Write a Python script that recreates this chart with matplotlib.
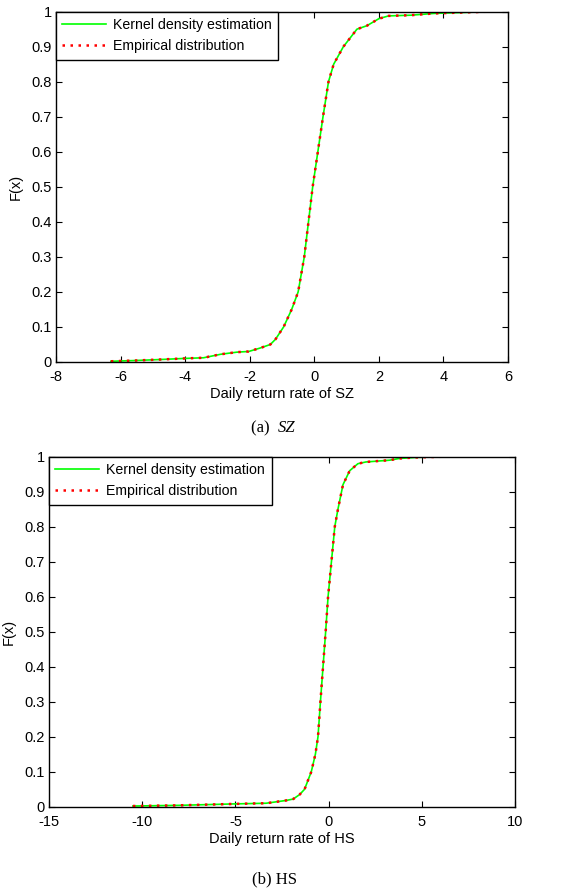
import matplotlib
matplotlib.use("Agg")
import matplotlib.pyplot as plt
import numpy as np

plt.rcParams['font.family'] = ['Liberation Sans', 'DejaVu Sans']

# SZ data (x = daily return, y = CDF)
sz_x = [-6.3, -5.6, -4.77, -4.05, -3.43, -2.9, -2.4, -2.03, -1.67, -1.36, -1.2, -0.95,
        -0.7, -0.5, -0.31, -0.18, -0.05, 0.11, 0.27, 0.44, 0.6, 0.9, 1.32, 1.63, 2.0,
        2.3, 3.0, 3.7, 4.7, 5.35]
sz_y = [0.002, 0.004, 0.007, 0.01, 0.012, 0.022, 0.028, 0.03, 0.04, 0.05, 0.065, 0.1,
        0.15, 0.2, 0.3, 0.4, 0.5, 0.6, 0.7, 0.8, 0.85, 0.9, 0.95, 0.96, 0.98,
        0.988, 0.99, 0.995, 0.998, 1.0]

# HS data
hs_x = [-10.5, -8.0, -5.1, -3.35, -2.27, -1.9, -1.55, -1.29, -0.93, -0.71, -0.57, -0.44,
        -0.3, -0.16, -0.03, 0.15, 0.33, 0.5, 0.77, 1.13, 1.57, 2.0, 3.27, 3.8, 4.7, 6.14]
hs_y = [0.002, 0.004, 0.008, 0.01, 0.018, 0.022, 0.035, 0.05, 0.1, 0.15, 0.2, 0.3,
        0.4, 0.5, 0.6, 0.7, 0.8, 0.85, 0.92, 0.96, 0.98, 0.985, 0.99, 0.995, 0.998, 1.0]

legend_labels = ['Kernel density estimation', 'Empirical distribution']

fig = plt.figure(figsize=(5.85, 8.92), dpi=100)

def draw(ax, x, y, xlim, xticks, xlabel):
    ax.plot(x, y, color='#00ff00', lw=1.2, label=legend_labels[0])
    ax.plot(x, y, color='red', lw=1.8, linestyle=(0, (1, 2.2)), label=legend_labels[1])
    ax.set_xlim(*xlim)
    ax.set_ylim(0, 1)
    ax.set_xticks(xticks)
    ax.set_xticklabels([f'{t:g}' for t in xticks])
    yt = np.round(np.arange(0, 1.01, 0.1), 1)
    ax.set_yticks(yt)
    ax.set_yticklabels([f'{t:g}' for t in yt])
    ax.tick_params(direction='in', top=True, right=True, labelsize=10.5, length=4, width=0.8)
    ax.tick_params(axis='x', pad=6)
    ax.tick_params(axis='y', pad=3)
    for s in ax.spines.values():
        s.set_linewidth(1.0)
    ax.set_xlabel(xlabel, fontsize=10.5, labelpad=2)
    ax.set_ylabel('F(x)', fontsize=10.5, labelpad=6)
    leg = ax.legend(loc='upper left', borderaxespad=0, fancybox=False, edgecolor='black',
                    framealpha=1, fontsize=10.2, handlelength=3.1, handletextpad=0.5,
                    borderpad=0.45, labelspacing=0.5)
    leg.get_frame().set_linewidth(1.0)

ax1 = fig.add_axes([0.0957, 0.5942, 0.7727, 0.3927])
draw(ax1, sz_x, sz_y, (-8, 6), [-8, -6, -4, -2, 0, 2, 4, 6], 'Daily return rate of SZ')

ax2 = fig.add_axes([0.0838, 0.0956, 0.7966, 0.3924])
draw(ax2, hs_x, hs_y, (-15, 10), [-15, -10, -5, 0, 5, 10], 'Daily return rate of HS')

fig.text(278 / 585, 1 - 428 / 892, '(a)  ', ha='right', va='center',
         fontsize=12, family='Liberation Serif')
fig.text(278 / 585, 1 - 428 / 892, 'SZ', ha='left', va='center',
         fontsize=12, family='Liberation Serif', style='italic')
fig.text(275 / 585, 1 - 879 / 892, '(b) HS', ha='center', va='center',
         fontsize=12, family='Liberation Serif')

fig.savefig('out.png', dpi=100)
